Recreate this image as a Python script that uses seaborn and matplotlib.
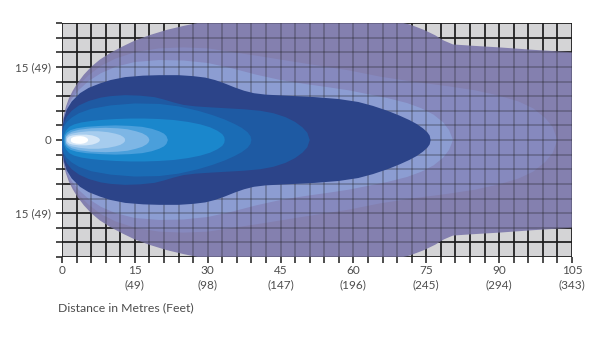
import numpy as np
import matplotlib
matplotlib.use("Agg")
import matplotlib.pyplot as plt
import seaborn as sns

# ---------------- data (upper half of each beam zone, metres) ----------------
x_ticks_major = [0, 15, 30, 45, 60, 75, 90, 105]
x_tick_labels = ["0", "15\n(49)", "30\n(98)", "45\n(147)", "60\n(196)",
                 "75\n(245)", "90\n(294)", "105\n(343)"]
y_ticks_major = [-15, 0, 15]
y_tick_labels = ["15 (49)", "0", "15 (49)"]
x_label = "Distance in Metres (Feet)"

outer_x = [0, 0.02, 0.15, 0.4, 0.8, 1.4, 2.2, 3.2, 4.5, 6, 7.8, 10, 12.5, 15, 18, 21.6, 25, 28.4, 33, 40, 48, 56, 63, 68, 71.6, 74.5, 76.8, 78.6, 80.5, 85, 90, 97, 105, 105]
outer_y = [0, 2, 3.6, 5.2, 6.8, 8.5, 10.1, 11.7, 13.4, 15, 16.5, 17.9, 19.2, 20.4, 21.5, 22.6, 23.4, 24.1, 25, 25.8, 26.1, 25.9, 25.3, 24.5, 23.7, 22.6, 21.5, 20.4, 19.6, 19.3, 19, 18.5, 18, 0]

mid_x = [0, 0.1, 0.4, 1, 2, 3.5, 5.5, 8, 11, 15, 20, 25, 30, 40, 50, 59, 65.5, 72, 79, 85, 90, 94, 97, 99.5, 101, 102]
mid_y = [0, 2.8, 5, 7, 9.2, 11.3, 13.3, 15.2, 16.7, 18, 18.8, 19, 18.8, 17.3, 15.7, 14.3, 13, 12, 11.1, 10.2, 9.1, 7.9, 6.5, 4.5, 2.7, 0]

light_x = [0, 0.1, 0.4, 1, 2, 3.5, 5.5, 8, 11, 15, 20, 25, 30, 35, 40, 45, 50, 55, 59, 63, 67, 71, 74, 76.5, 78.5, 79.7, 80.5]
light_y = [0, 2.5, 4.5, 6.4, 8.4, 10.3, 12.1, 13.7, 15, 16, 16.4, 16.3, 15.8, 14.7, 13.4, 12.3, 11.5, 10.8, 10.2, 9.4, 8.6, 7.6, 6.5, 5.2, 3.6, 2, 0]

navy_x = [0, 0.1, 0.4, 1, 2, 3.7, 5.5, 7.8, 10, 13, 16.7, 20, 24, 27, 29.5, 31.5, 33.5, 35.5, 37.5, 39.5, 42, 46, 52, 57, 61, 64, 67, 69.5, 71.5, 73, 74.3, 75.2, 75.7, 75.9]
navy_y = [0, 2.5, 4.5, 6.3, 7.9, 9.6, 10.7, 11.6, 12.3, 12.9, 13.2, 13.3, 13.3, 13.1, 12.8, 12.3, 11.6, 10.8, 10.1, 9.6, 9.3, 9.1, 8.8, 8.4, 7.8, 7, 6, 5, 4.1, 3.3, 2.4, 1.6, 0.9, 0]

d_x = [0, 0.1, 0.4, 1, 2, 3.5, 5.5, 8, 10, 13, 16, 19, 21, 23, 25, 27.5, 30.5, 34, 37.5, 40.8, 43.5, 46, 48, 49.5, 50.5, 51]
d_y = [0, 2, 3.5, 4.8, 6, 7.1, 8, 8.7, 9, 9.2, 9.1, 8.8, 8.3, 7.7, 7.2, 6.9, 6.7, 6.5, 6.3, 6, 5.5, 4.7, 3.7, 2.6, 1.5, 0]

e_x = [0, 0.1, 0.4, 1, 2, 3.5, 6, 10, 15, 20, 24, 28, 31, 33.5, 35.5, 37, 38.2, 38.8, 39]
e_y = [0, 1.6, 2.8, 3.7, 4.6, 5.5, 6.4, 7.1, 7.5, 7.4, 6.9, 6, 5.1, 4.2, 3.3, 2.5, 1.6, 0.8, 0]

f_x = [0.3, 0.4, 0.8, 1.5, 2.5, 4, 6, 8, 11, 14, 17, 20, 23, 26, 28.5, 30.5, 32, 33, 33.4, 33.5]
f_y = [0, 1, 1.9, 2.7, 3.2, 3.6, 3.9, 4.1, 4.3, 4.4, 4.4, 4.3, 4.1, 3.7, 3.2, 2.6, 1.9, 1.2, 0.6, 0]

g_x = [0.5, 0.6, 1, 1.7, 3, 5, 8, 11, 14, 16.5, 18.5, 20, 21, 21.5, 21.8]
g_y = [0, 0.9, 1.5, 2, 2.4, 2.7, 2.9, 3, 2.9, 2.7, 2.3, 1.8, 1.3, 0.8, 0]

h_x = [0.7, 0.8, 1.2, 2, 3.5, 6, 9, 11.5, 13.5, 15.2, 16.5, 17.4, 17.8, 18]
h_y = [0, 0.7, 1.2, 1.7, 2.1, 2.4, 2.5, 2.4, 2.2, 1.8, 1.4, 0.9, 0.5, 0]

i_x = [0.8, 0.9, 1.3, 2, 3.5, 5.5, 7.5, 9.5, 11, 12, 12.6, 12.9, 13]
i_y = [0, 0.6, 1, 1.3, 1.6, 1.8, 1.8, 1.6, 1.3, 1, 0.65, 0.35, 0]

j_x = [1, 1.1, 1.5, 2.2, 3.5, 5, 6.2, 7, 7.5, 7.75, 7.8]
j_y = [0, 0.4, 0.75, 0.95, 1.1, 1.1, 0.95, 0.7, 0.45, 0.2, 0]

k_x = [1.8, 1.9, 2.3, 3, 3.8, 4.5, 5, 5.3, 5.4]
k_y = [0, 0.35, 0.6, 0.75, 0.8, 0.7, 0.5, 0.25, 0]

lavender_zones = [(outer_x, outer_y, "#8480AF"),
                  (mid_x, mid_y, "#8689BE"),
                  (light_x, light_y, "#8C9DD2")]
blue_zones = [(navy_x, navy_y, "#2C4489"),
              (d_x, d_y, "#1E5AA3"),
              (e_x, e_y, "#1A6CB5"),
              (f_x, f_y, "#1A87CC"),
              (g_x, g_y, "#4A9FDB"),
              (h_x, h_y, "#7DB6E5"),
              (i_x, i_y, "#A6CCEE"),
              (j_x, j_y, "#D4E6F7"),
              (k_x, k_y, "#FFFFFF")]

# ---------------- drawing ----------------
sns.set_style("white")
plt.rcParams["font.family"] = ["Lato", "DejaVu Sans"]

fig = plt.figure(figsize=(6, 3.39), dpi=100)
ax = fig.add_axes([62 / 600, 1 - 257 / 339, 510 / 600, 234 / 339])
ax.set_facecolor("#D4D4D6")
ax.set_xlim(0, 105)
ax.set_ylim(-24, 24)

xg = np.arange(0, 106, 3)
yg = np.arange(-24, 25, 3)


def draw_grid(z, alpha):
    ax.vlines(xg, -24, 24, colors="#1c1c1c", linewidth=1.2, alpha=alpha, zorder=z)
    ax.hlines(yg, 0, 105, colors="#1c1c1c", linewidth=1.2, alpha=alpha, zorder=z)


def zone(xs, ys, color, z):
    xs = list(xs)
    ys = list(ys)
    px = xs + xs[::-1]
    py = ys + [-v for v in ys[::-1]]
    ax.fill(px, py, color=color, linewidth=0, zorder=z, antialiased=True)


draw_grid(1, 1.0)
for xs, ys, c in lavender_zones:
    zone(xs, ys, c, 2)
draw_grid(3, 0.3)
for xs, ys, c in blue_zones:
    zone(xs, ys, c, 4)

for s in ax.spines.values():
    s.set_visible(False)

ax.set_xticks(xg, minor=True)
ax.set_yticks(yg, minor=True)
ax.set_xticks(x_ticks_major)
ax.set_xticklabels(x_tick_labels, fontsize=8.5, color="#4d4d4d", linespacing=1.4)
ax.set_yticks(y_ticks_major)
ax.set_yticklabels(y_tick_labels, fontsize=8.3, color="#4d4d4d")
ax.tick_params(which="both", direction="out", length=4, width=1.1, color="#1c1c1c",
               bottom=True, left=True)
ax.tick_params(axis="x", which="major", pad=1.5)
ax.tick_params(axis="y", which="major", pad=4)

fig.text(58 / 600, 1 - 308 / 339, x_label, fontsize=8.8, color="#4d4d4d",
         ha="left", va="center")

fig.savefig("out.png", dpi=100)
